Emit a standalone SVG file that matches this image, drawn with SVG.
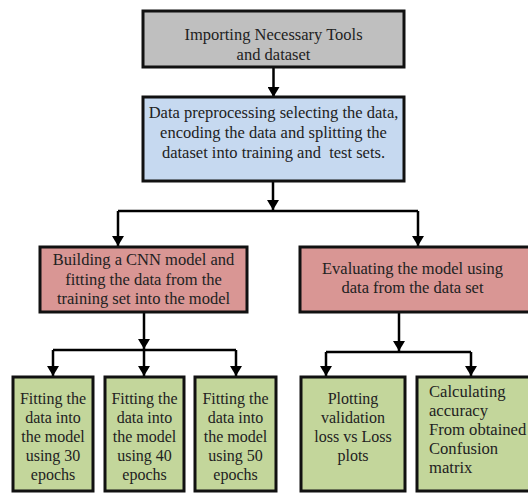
<svg xmlns="http://www.w3.org/2000/svg" width="528" height="493" viewBox="0 0 528 493">
<defs>
<marker id="ah" markerUnits="userSpaceOnUse" markerWidth="10" markerHeight="12" viewBox="0 0 10 12" refX="10" refY="6" orient="auto">
<path d="M0,0 L10,6 L0,12 z" fill="#000"/>
</marker>
<style>
.box{stroke:#111;stroke-width:3}
.gray{fill:#bfbfbf}
.blue{fill:#c6d9f0}
.red{fill:#d99694}
.green{fill:#c3d69b}
text{font-family:"Liberation Serif","Times New Roman",serif;fill:#222}
.c{text-anchor:middle;font-size:16.5px}
.g{text-anchor:middle;font-size:16px}
.l{font-size:16.6px}
.line{stroke:#000;stroke-width:2.5;fill:none}
.arr{stroke:#000;stroke-width:2.5;fill:none;marker-end:url(#ah)}
</style>
</defs>
<rect width="528" height="493" fill="#fff"/>
<g id="connectors">
<line class="arr" x1="273.5" y1="67" x2="273.5" y2="97"/>
<line class="arr" x1="273" y1="181" x2="273" y2="210"/>
<line class="line" x1="118" y1="211" x2="418" y2="211"/>
<line class="arr" x1="118" y1="211" x2="118" y2="246"/>
<line class="arr" x1="418" y1="211" x2="418" y2="246"/>
<line class="arr" x1="144" y1="312" x2="144" y2="349"/>
<line class="line" x1="53" y1="350" x2="236" y2="350"/>
<line class="arr" x1="53" y1="350" x2="53" y2="376"/>
<line class="arr" x1="144" y1="350" x2="144" y2="376"/>
<line class="arr" x1="236" y1="350" x2="236" y2="376"/>
<line class="arr" x1="399" y1="312" x2="399" y2="351"/>
<line class="line" x1="326" y1="352" x2="471" y2="352"/>
<line class="arr" x1="326" y1="352" x2="326" y2="376"/>
<line class="arr" x1="471" y1="352" x2="471" y2="376"/>
</g>
<g id="n1">
<rect class="box gray" x="143" y="11" width="261" height="56"/>
<text class="c" x="273.5" y="40">Importing Necessary Tools</text>
<text class="c" x="273.5" y="60">and dataset</text>
</g>
<g id="n2">
<rect class="box blue" x="143" y="97" width="261" height="84"/>
<text class="c" x="273.5" y="118">Data preprocessing selecting the data,</text>
<text class="c" x="273.5" y="138">encoding the data and splitting the</text>
<text class="c" x="273.5" y="158" xml:space="preserve">dataset into training and  test sets.</text>
</g>
<g id="n3">
<rect class="box red" x="40" y="247" width="207" height="65"/>
<text class="c" x="143.5" y="265">Building a CNN model and</text>
<text class="c" x="143.5" y="285">fitting the data from the</text>
<text class="c" x="143.5" y="304">training set into the model</text>
</g>
<g id="n4">
<rect class="box red" x="300" y="247" width="232" height="65"/>
<text class="c" x="412.5" y="274">Evaluating the model using</text>
<text class="c" x="412.5" y="293">data from the data set</text>
</g>
<g id="n5">
<rect class="box green" x="13" y="377" width="80" height="114"/>
<text class="g" x="53" y="404">Fitting the</text>
<text class="g" x="53" y="423">data into</text>
<text class="g" x="53" y="442">the model</text>
<text class="g" x="53" y="461">using 30</text>
<text class="g" x="53" y="480">epochs</text>
</g>
<g id="n6">
<rect class="box green" x="105" y="377" width="79" height="114"/>
<text class="g" x="144.5" y="404">Fitting the</text>
<text class="g" x="144.5" y="423">data into</text>
<text class="g" x="144.5" y="442">the model</text>
<text class="g" x="144.5" y="461">using 40</text>
<text class="g" x="144.5" y="480">epochs</text>
</g>
<g id="n7">
<rect class="box green" x="195" y="377" width="81" height="114"/>
<text class="g" x="235.5" y="404">Fitting the</text>
<text class="g" x="235.5" y="423">data into</text>
<text class="g" x="235.5" y="442">the model</text>
<text class="g" x="235.5" y="461">using 50</text>
<text class="g" x="235.5" y="480">epochs</text>
</g>
<g id="n8">
<rect class="box green" x="301" y="377" width="104" height="114"/>
<text class="g" x="353" y="404">Plotting</text>
<text class="g" x="353" y="423">validation</text>
<text class="g" x="353" y="442">loss vs Loss</text>
<text class="g" x="353" y="461">plots</text>
</g>
<g id="n9">
<rect class="box green" x="417" y="377" width="115" height="114"/>
<text class="l" x="429" y="397">Calculating</text>
<text class="l" x="429" y="416">accuracy</text>
<text class="l" x="429" y="435">From obtained</text>
<text class="l" x="429" y="454">Confusion</text>
<text class="l" x="429" y="473">matrix</text>
</g>
</svg>
